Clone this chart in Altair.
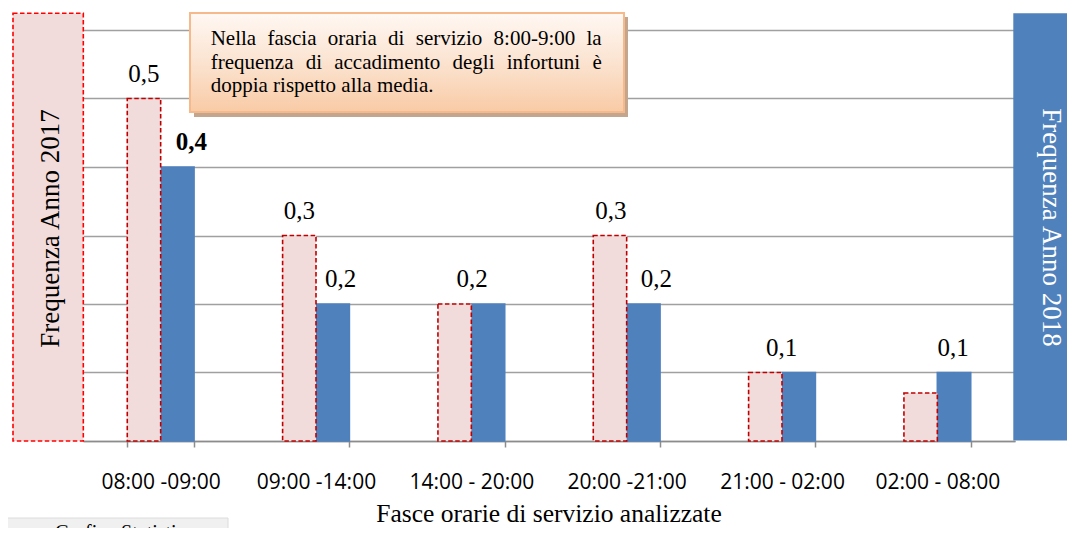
import altair as alt
import pandas as pd

# ---------------- data ----------------
categories = ["08:00 -09:00", "09:00 -14:00", "14:00 - 20:00",
              "20:00 -21:00", "21:00 - 02:00", "02:00 - 08:00"]
years = ["2017", "2018"]
freq_2017 = [0.5, 0.3, 0.2, 0.3, 0.1, 0.07]
freq_2018 = [0.4, 0.2, 0.2, 0.2, 0.1, 0.1]

label_fascia = ["08:00 -09:00", "08:00 -09:00", "09:00 -14:00", "09:00 -14:00",
                "14:00 - 20:00", "20:00 -21:00", "20:00 -21:00", "21:00 - 02:00",
                "02:00 - 08:00"]
label_anno = ["2017", "2018", "2017", "2018", "2018", "2017", "2018", "2018", "2018"]
label_value = [0.5, 0.4, 0.3, 0.2, 0.2, 0.3, 0.2, 0.1, 0.1]
label_text = ["0,5", "0,4", "0,3", "0,2", "0,2", "0,3", "0,2", "0,1", "0,1"]
label_bold = [False, True, False, False, False, False, False, False, False]
label_dx = [0, 14, 0, 8, -16, 1, 13, -17, -1]

callout_lines = ["Nella fascia oraria di servizio 8:00-9:00 la",
                 "frequenza di accadimento degli infortuni è",
                 "doppia rispetto alla media."]
x_title = "Fasce orarie di servizio analizzate"
left_title = "Frequenza Anno 2017"
right_title = "Frequenza  Anno 2018"
corner_text = "Grafico Statistico"

# ---------------- styles ----------------
PINK = "#F2DCDB"
BLUE = "#4F81BD"
DARKRED = "#C00000"
SERIF = "Liberation Serif"
SANS = "Open Sans"
W, H = 932, 411

rows = []
for c, a, b in zip(categories, freq_2017, freq_2018):
    rows.append({"fascia": c, "anno": "2018", "freq": b})
    rows.append({"fascia": c, "anno": "2017", "freq": a})
df = pd.DataFrame(rows)

x_enc = alt.X("fascia:N", sort=categories,
              scale=alt.Scale(domain=categories, paddingInner=0.57, paddingOuter=0.285),
              axis=alt.Axis(title=None, labelAngle=0, tickBand="extent", grid=False,
                            labelFont=SANS, labelFontSize=21, labelColor="#000000",
                            labelPadding=24, tickSize=6, tickColor="#8C8C8C", tickWidth=1.5,
                            domainColor="#8C8C8C", domainWidth=1.5))
xo_enc = alt.XOffset("anno:N", scale=alt.Scale(domain=years, paddingInner=0, paddingOuter=0))
y_enc = alt.Y("freq:Q", stack=None,
              scale=alt.Scale(domain=[0, 0.6], nice=False, zero=True),
              axis=alt.Axis(title=None, values=[0, 0.1, 0.2, 0.3, 0.4, 0.5, 0.6],
                            labels=False, ticks=False, domain=False, grid=True,
                            gridColor="#A0A0A0", gridWidth=1.5))

bars = alt.Chart(df).mark_bar(strokeWidth=1.6).encode(
    x=x_enc, xOffset=xo_enc, y=y_enc,
    fill=alt.Fill("anno:N", scale=alt.Scale(domain=years, range=[PINK, BLUE]), legend=None),
    stroke=alt.Stroke("anno:N", scale=alt.Scale(domain=years, range=[DARKRED, BLUE]), legend=None),
    strokeDash=alt.StrokeDash("anno:N", scale=alt.Scale(domain=years, range=[[4.5, 2.5], [1, 0]]),
                              legend=None),
)

layers = []
ann = pd.DataFrame({"k": [0]})

# frames outside the plot
layers.append(alt.Chart(ann).mark_rect(fill=PINK, stroke="#FF0000", strokeDash=[4.5, 2.5],
                                       strokeWidth=1.6).encode(
    x=alt.value(-70), x2=alt.value(0.3), y=alt.value(-16.7), y2=alt.value(411)))
layers.append(alt.Chart(ann).mark_text(text=left_title, angle=270, font=SERIF, fontSize=27,
                                       color="#000000", align="center", baseline="middle").encode(
    x=alt.value(-32), y=alt.value(198.5)))
layers.append(alt.Chart(ann).mark_rect(fill=BLUE).encode(
    x=alt.value(930.3), x2=alt.value(990), y=alt.value(-16.7), y2=alt.value(410.5)))
layers.append(alt.Chart(ann).mark_text(text=right_title, angle=90, font=SERIF, fontSize=27,
                                       color="#FFFFFF", align="center", baseline="middle").encode(
    x=alt.value(968), y=alt.value(197.5)))

layers.append(bars)

# data labels
for f, a, v, t, b, d in zip(label_fascia, label_anno, label_value, label_text, label_bold, label_dx):
    ldf = pd.DataFrame([{"fascia": f, "anno": a, "freq": v, "txt": t}])
    layers.append(alt.Chart(ldf).mark_text(
        font=SERIF, fontSize=25, fontWeight="bold" if b else "normal", color="#000000",
        baseline="alphabetic", align="center", dx=d, dy=-17).encode(
        x=x_enc, xOffset=xo_enc, y=y_enc, text="txt:N"))

# callout box
layers.append(alt.Chart(ann).mark_rect(fill="#C4A58E").encode(
    x=alt.value(111), x2=alt.value(545), y=alt.value(-13), y2=alt.value(87)))
grad = alt.LinearGradient(gradient="linear", x1=0, x2=0, y1=0, y2=1,
                          stops=[alt.GradientStop(color="#FFF8F3", offset=0),
                                 alt.GradientStop(color="#FBE3D0", offset=0.5),
                                 alt.GradientStop(color="#F9CBA6", offset=1)])
layers.append(alt.Chart(ann).mark_rect(fill=grad, stroke="#F5B98C", strokeWidth=2).encode(
    x=alt.value(107), x2=alt.value(541), y=alt.value(-17), y2=alt.value(82)))

# justified callout text (Times metrics)
TIMES = {"a": 444, "b": 500, "c": 444, "d": 500, "e": 444, "f": 333, "g": 500, "h": 500,
         "i": 278, "j": 278, "k": 500, "l": 278, "m": 778, "n": 500, "o": 500, "p": 500,
         "q": 500, "r": 333, "s": 389, "t": 278, "u": 500, "v": 500, "w": 722, "x": 500,
         "y": 500, "z": 444, "è": 444, "N": 722, ":": 278, "-": 333, ".": 250, " ": 250}
CFS = 21


def tw(s):
    return sum(TIMES.get(ch, 500) for ch in s) / 1000 * CFS


c_left, c_right = 127.7, 518.7
baselines = [15, 38.5, 62]
for li, (line, by) in enumerate(zip(callout_lines, baselines)):
    words = line.split(" ")
    if li < len(callout_lines) - 1:
        gap = (c_right - c_left - sum(tw(w) for w in words)) / (len(words) - 1)
    else:
        gap = tw(" ")
    xpos = c_left
    for w in words:
        layers.append(alt.Chart(ann).mark_text(text=w, font=SERIF, fontSize=CFS, color="#000000",
                                               align="left", baseline="alphabetic").encode(
            x=alt.value(xpos), y=alt.value(by)))
        xpos += tw(w) + gap

# x title
layers.append(alt.Chart(ann).mark_text(text=x_title, font=SERIF, fontSize=25.5, color="#000000",
                                       align="center", baseline="alphabetic").encode(
    x=alt.value(W / 2), y=alt.value(492)))

# bottom-left partial box
layers.append(alt.Chart(ann).mark_rect(fill="#F0F0F0", stroke="#DCDCDC").encode(
    x=alt.value(-76), x2=alt.value(145), y=alt.value(488), y2=alt.value(520)))
layers.append(alt.Chart(ann).mark_text(text=corner_text, font=SERIF, fontSize=20, color="#000000",
                                       align="left", baseline="alphabetic").encode(
    x=alt.value(-28), y=alt.value(509)))

chart = alt.layer(*layers).properties(
    width=W, height=H,
    autosize=alt.AutoSizeParams(type="none"),
    padding={"left": 75, "top": 22, "right": 52, "bottom": 87},
    background="#FFFFFF",
).configure_view(stroke=None)

chart.save("out.html", embed_options={"renderer": "svg", "actions": False})
